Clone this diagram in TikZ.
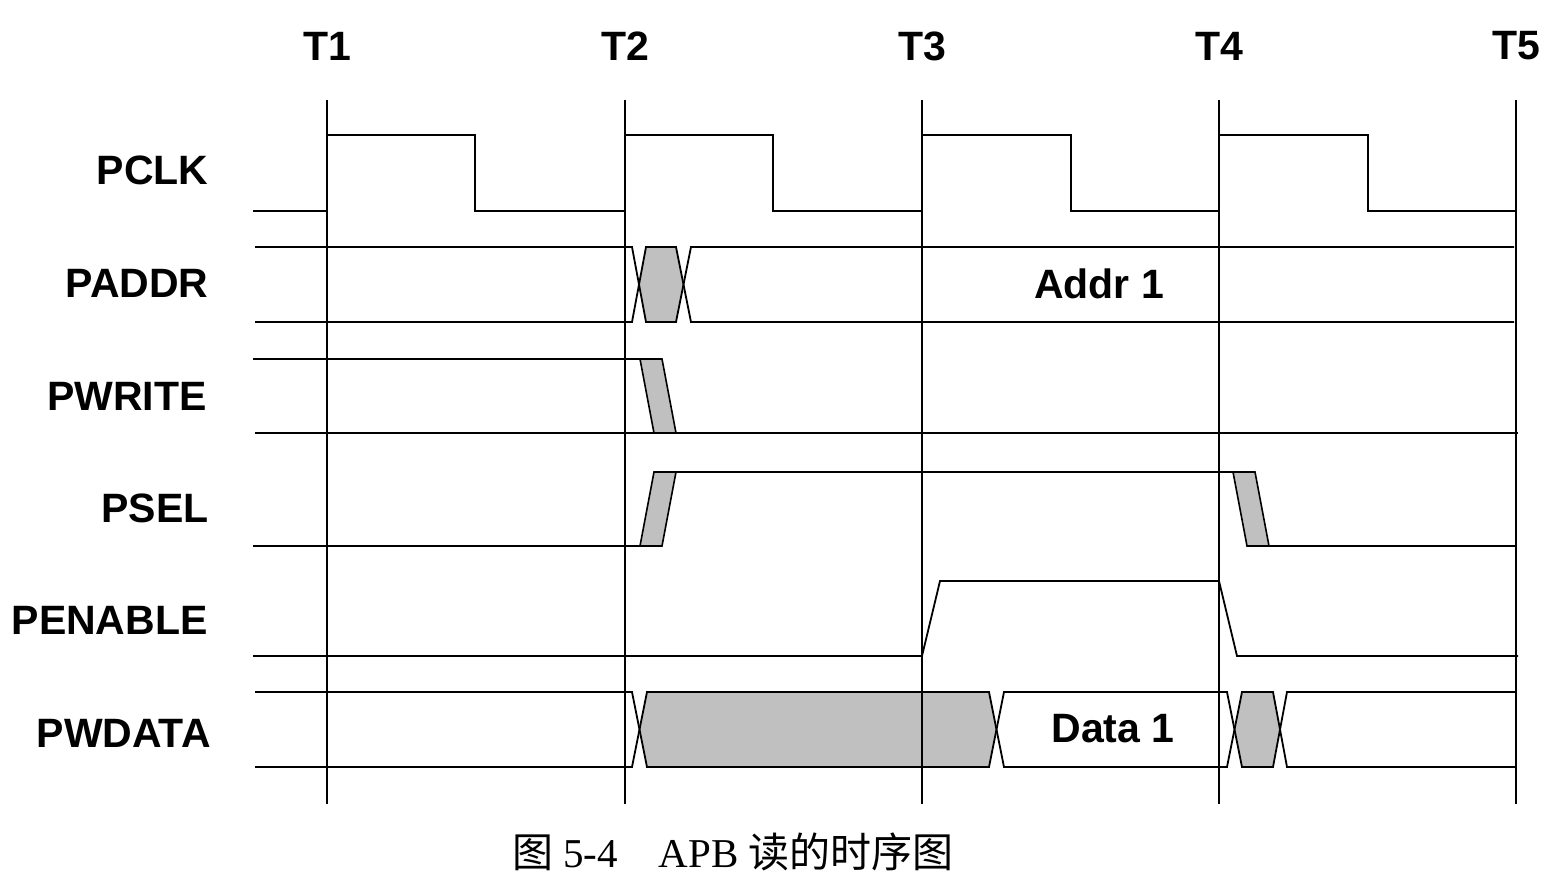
\documentclass[tikz,border=0pt]{standalone}
\usepackage{fontspec}
\setmainfont{Liberation Serif}
\setsansfont{Liberation Sans}
\newfontfamily\cjk{Noto Sans CJK SC}
\definecolor{busgray}{RGB}{192,192,192}
\begin{document}
\begin{tikzpicture}[
		x=0.5pt, y=-0.5pt,
		every node/.style={font=\sffamily\bfseries\fontsize{20.5}{24}\selectfont, inner sep=0pt},
		sig/.style={line width=0.9pt},
		tline/.style={line width=0.9pt},
		busfill/.style={fill=busgray, draw=black, line width=0.8pt}
	]
  \useasboundingbox (0,0) rectangle (1558,893);
  % time marks
  \node (t1) at (327,46) {T1};
  \node (t2) at (625,46) {T2};
  \node (t3) at (922,46) {T3};
  \node (t4) at (1219,46) {T4};
  \node (t5) at (1516,46) {T5};
  % signal names
  \node (pclk) [anchor=east] at (209,170) {PCLK};
  \node (paddr) [anchor=east] at (209,283) {PADDR};
  \node (pwrite) [anchor=east] at (207,396) {PWRITE};
  \node (psel) [anchor=east] at (209,508) {PSEL};
  \node (penable) [anchor=east] at (208,620) {PENABLE};
  \node (pwdata) [anchor=east] at (211,733) {PWDATA};
  % PCLK
  \draw[sig] (253,211) -- (327,211) -- (327,135) -- (475,135) -- (475,211) -- (625,211) -- (625,135) -- (773,135) -- (773,211) -- (922,211) -- (922,135) -- (1071,135) -- (1071,211) -- (1219,211) -- (1219,135) -- (1368,135) -- (1368,211) -- (1516,211);
  % PADDR
  \fill[busgray] (646,247) -- (676,247) -- (683.5,284.5) -- (676,322) -- (646,322) -- (639,284.5) -- cycle;
  \draw[sig] (255,247) -- (632,247) -- (646,322) -- (676,322) -- (691,247) -- (1514,247);
  \draw[sig] (255,322) -- (632,322) -- (646,247) -- (676,247) -- (691,322) -- (1514,322);
  \node (addr) at (1099,284) {Addr 1};
  % PWRITE
  \draw[sig] (253,359) -- (662,359);
  \draw[sig] (255,433) -- (1518,433);
  \filldraw[busfill] (640,359) -- (662,359) -- (676,433) -- (654,433) -- cycle;
  % PSEL
  \draw[sig] (253,546) -- (640,546);
  \filldraw[busfill] (640,546) -- (662,546) -- (676,472) -- (654,472) -- cycle;
  \draw[sig] (654,472) -- (1255,472);
  \filldraw[busfill] (1233,472) -- (1255,472) -- (1269,546) -- (1247,546) -- cycle;
  \draw[sig] (1247,546) -- (1516,546);
  % PENABLE
  \draw[sig] (253,656) -- (922,656) -- (940,581) -- (1219,581) -- (1237,656) -- (1518,656);
  % PWDATA
  \fill[busgray] (647,692) -- (989,692) -- (996.5,729.5) -- (989,767) -- (647,767) -- (639.5,729.5) -- cycle;
  \fill[busgray] (1242,692) -- (1273,692) -- (1280,729.5) -- (1273,767) -- (1242,767) -- (1234.5,729.5) -- cycle;
  \draw[sig] (255,692) -- (632,692) -- (647,767) -- (989,767) -- (1004,692) -- (1227,692) -- (1242,767) -- (1273,767) -- (1287,692) -- (1516,692);
  \draw[sig] (255,767) -- (632,767) -- (647,692) -- (989,692) -- (1004,767) -- (1227,767) -- (1242,692) -- (1273,692) -- (1287,767) -- (1516,767);
  \node (data) at (1113,729) {Data 1};
  % clock edges
  \draw[tline] (327,100) -- (327,804);
  \draw[tline] (625,100) -- (625,804);
  \draw[tline] (922,100) -- (922,804);
  \draw[tline] (1219,100) -- (1219,804);
  \draw[tline] (1516,100) -- (1516,804);
  % caption
  \node (cap) [anchor=base, font=\rmfamily\mdseries\fontsize{20.5}{24}\selectfont] at (733,867) {{\cjk 图} 5-4\hspace{1em}APB {\cjk 读的时序图}};
\end{tikzpicture}
\end{document}
